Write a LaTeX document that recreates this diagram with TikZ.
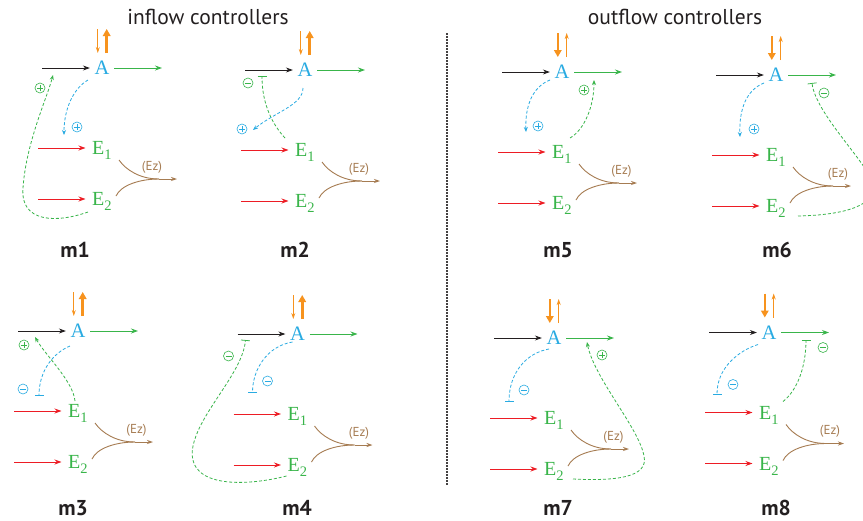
\documentclass[tikz,border=0pt]{standalone}
\usepackage{fontspec}
\setmainfont{Liberation Serif}
\newfontfamily\ptsans{PT Sans}
\usetikzlibrary{arrows.meta}
\definecolor{cA}{HTML}{29ABE2}
\definecolor{cG}{HTML}{39B54A}
\definecolor{cR}{HTML}{ED1C24}
\definecolor{cO}{HTML}{F7931E}
\definecolor{cB}{HTML}{A67C52}
\definecolor{cK}{HTML}{231F20}
\newcommand\esub[1]{\raisebox{-5pt}{\fontsize{14.5}{14.5}\selectfont #1}}
\tikzset{
  Anode/.style={text=cA, font=\fontsize{20.5}{20.5}\selectfont, inner sep=4.5pt, text depth=0pt},
  Enode/.style={text=cG, font=\fontsize{20}{20}\selectfont, inner sep=5pt, text depth=0pt, anchor=west},
  flow/.style={line width=0.9pt, -{Stealth[length=7pt,width=5pt]}},
  inarr/.style={flow, draw=cK},
  outarr/.style={flow, draw=cG},
  redarr/.style={flow, draw=cR, shorten >=1.5pt},
  orthin/.style={draw=cO, line width=0.9pt, -{Stealth[length=6pt,width=4pt]}},
  orthick/.style={draw=cO, line width=2.6pt, -{Triangle[length=7pt,width=7.5pt]}},
  brownline/.style={draw=cB, line width=0.9pt},
  brownarr/.style={draw=cB, line width=0.9pt, -{Stealth[length=6pt,width=4pt]}},
  ezlab/.style={text=cB, font=\ptsans\fontsize{13}{13}\selectfont, inner sep=0pt},
  fbG/.style={draw=cG, line width=0.8pt, dash pattern=on 3pt off 2pt},
  fbB/.style={draw=cA, line width=0.8pt, dash pattern=on 3pt off 2pt},
  act/.style={-{Stealth[length=5pt,width=4pt]}},
  inh/.style={-{Bar[width=9pt,line width=0.8pt]}},
  symb/.style={circle, draw=#1, line width=0.6pt, minimum size=10pt, inner sep=0pt},
  plsym/.style={symb=#1, path picture={\draw[#1,line width=0.6pt]
      ([xshift=-3pt]path picture bounding box.center) -- ([xshift=3pt]path picture bounding box.center)
      ([yshift=-3pt]path picture bounding box.center) -- ([yshift=3pt]path picture bounding box.center);}},
  misym/.style={symb=#1, path picture={\draw[#1,line width=0.6pt]
      ([xshift=-3pt]path picture bounding box.center) -- ([xshift=3pt]path picture bounding box.center);}},
  mlab/.style={text=cK, font=\ptsans\bfseries\fontsize{21.5}{21.5}\selectfont, anchor=base, inner sep=0pt},
  title/.style={text=cK, font=\ptsans\fontsize{21.5}{21.5}\selectfont, anchor=base, inner sep=0pt},
  sepline/.style={draw=cK!85, line width=1.1pt, dash pattern=on 1.6pt off 1.4pt}
}
% #1 id, #2 x, #3 y, #4 left orange style, #5 right orange style, #6 Ez x offset
\newcommand\panel[6]{%
\begin{scope}[shift={(#2,#3)}]
  \node[Anode] (A#1) at (0,0) {A};
  \node[Enode] (Ea#1) at (-15,80) {E\esub{1}};
  \node[Enode] (Eb#1) at (-15,131) {E\esub{2}};
  \coordinate (src#1) at (-60,0);
  \coordinate (snk#1) at (60,0);
  \coordinate (ra#1) at (-64,80);
  \coordinate (rb#1) at (-64,131);
  \coordinate (odt#1) at (-4.2,-39);
  \coordinate (odb#1) at (-4.2,-15);
  \coordinate (oub#1) at (4.7,-15);
  \coordinate (out#1) at (4.7,-39);
  \coordinate (ja#1) at (17,92);
  \coordinate (jb#1) at (14,128);
  \coordinate (jm#1) at (57,111);
  \coordinate (jt#1) at (75,111);
  \draw[inarr] (src#1) -- (A#1.west);
  \draw[outarr] (A#1.east) -- (snk#1);
  \draw[redarr] (ra#1) -- (Ea#1.west);
  \draw[redarr] (rb#1) -- (Eb#1.west);
  \draw[#4] (odt#1) -- (odb#1);
  \draw[#5] (oub#1) -- (out#1);
  \draw[brownline] (ja#1) .. controls (24,102) and (38,111) .. (jm#1);
  \draw[brownline] (jb#1) .. controls (19,117) and (38,111) .. (jm#1);
  \draw[brownarr] (jm#1) -- (jt#1);
  \node[ezlab] (ez#1) at (#6,99) {(Ez)};
\end{scope}}
\begin{document}
\begin{tikzpicture}[x=1pt,y=-1pt]
\path[fill=white,use as bounding box] (0,0) rectangle (863,520);

\node[title] (tin) at (208,24) {inflow controllers};
\node[title] (tout) at (675,24) {outflow controllers};
\coordinate (septop) at (447,33);
\coordinate (sepbot) at (447,485);
\draw[sepline] (septop) -- (sepbot);

\panel{1}{102}{68}{orthin}{orthick}{50}
\panel{2}{305}{70}{orthin}{orthick}{54}
\panel{5}{562}{72}{orthick}{orthin}{59.5}
\panel{6}{776}{75}{orthick}{orthin}{62}
\panel{3}{78}{331}{orthin}{orthick}{58.5}
\panel{4}{297.5}{334}{orthin}{orthick}{61.5}
\panel{7}{554}{338}{orthick}{orthin}{59.5}
\panel{8}{769}{332.5}{orthick}{orthin}{61}

% m1
\begin{scope}[shift={(102,68)}]
  \draw[fbB,act] (-14,12) .. controls (-28,20) and (-38,40) .. (-38,67);
  \node[plsym=cA] (s1b) at (-25,59) {};
  \draw[fbG,act] (-14,144) .. controls (-45,155) and (-82,155) .. (-79,120) .. controls (-76,75) and (-55,30) .. (-49,7);
  \node[plsym=cG] (s1g) at (-62,20) {};
\end{scope}
% m2
\begin{scope}[shift={(305,70)}]
  \draw[fbG,inh] (-20,68) .. controls (-32,55) and (-43,35) .. (-43,6);
  \node[misym=cG] (s2g) at (-57,13) {};
  \draw[fbB,act] (-2,18) .. controls (-2,35) and (-30,42) .. (-52,60);
  \node[plsym=cA] (s2b) at (-63,59) {};
\end{scope}
% m5
\begin{scope}[shift={(562,72)}]
  \draw[fbB,act] (-12,8) .. controls (-30,15) and (-37,35) .. (-36,60);
  \node[plsym=cA] (s5b) at (-24,54) {};
  \draw[fbG,act] (8,66) .. controls (22,58) and (32,35) .. (32,8);
  \node[plsym=cG] (s5g) at (22,18) {};
\end{scope}
% m6
\begin{scope}[shift={(776,75)}]
  \draw[fbB,act] (-12,8) .. controls (-30,15) and (-37,35) .. (-36,62);
  \node[plsym=cA] (s6b) at (-22,54) {};
  \draw[fbG,inh] (22,141) .. controls (70,140) and (100,130) .. (97,110) .. controls (94,90) and (40,40) .. (36,8);
  \node[misym=cG] (s6g) at (48,18) {};
\end{scope}
% m3
\begin{scope}[shift={(78,331)}]
  \draw[fbB,inh] (-8,15) .. controls (-25,22) and (-39,40) .. (-39,65);
  \node[misym=cA] (s3b) at (-55,58) {};
  \draw[fbG,act] (-3,70) .. controls (-5,50) and (-32,25) .. (-43,6);
  \node[plsym=cG] (s3g) at (-54,14) {};
\end{scope}
% m4
\begin{scope}[shift={(297.5,334)}]
  \draw[fbB,inh] (-5,8) .. controls (-30,12) and (-45,35) .. (-45,59);
  \node[misym=cA] (s4b) at (-30,47) {};
  \draw[fbG,inh] (-11,142) .. controls (-50,152) and (-110,155) .. (-105,115) .. controls (-100,80) and (-55,40) .. (-52,6);
  \node[misym=cG] (s4g) at (-69,22) {};
\end{scope}
% m7
\begin{scope}[shift={(554,338)}]
  \draw[fbB,inh] (-5,11) .. controls (-28,15) and (-45,35) .. (-45,64);
  \node[misym=cA] (s7b) at (-30,52) {};
  \draw[fbG,act] (19,141) .. controls (60,143) and (95,140) .. (90,118) .. controls (85,90) and (40,40) .. (33,4);
  \node[plsym=cG] (s7g) at (48,17) {};
\end{scope}
% m8
\begin{scope}[shift={(769,332.5)}]
  \draw[fbB,inh] (-11,12) .. controls (-30,18) and (-52,35) .. (-52,62);
  \node[misym=cA] (s8b) at (-36,52) {};
  \draw[fbG,inh] (14,69) .. controls (28,58) and (37,35) .. (37,7);
  \node[misym=cG] (s8g) at (54,15) {};
\end{scope}

\node[mlab] (l1) at (75,257) {m1};
\node[mlab] (l2) at (295,257) {m2};
\node[mlab] (l5) at (558,257) {m5};
\node[mlab] (l6) at (777,257) {m6};
\node[mlab] (l3) at (73,515) {m3};
\node[mlab] (l4) at (297,515) {m4};
\node[mlab] (l7) at (558,515) {m7};
\node[mlab] (l8) at (776,515) {m8};
\end{tikzpicture}
\end{document}
